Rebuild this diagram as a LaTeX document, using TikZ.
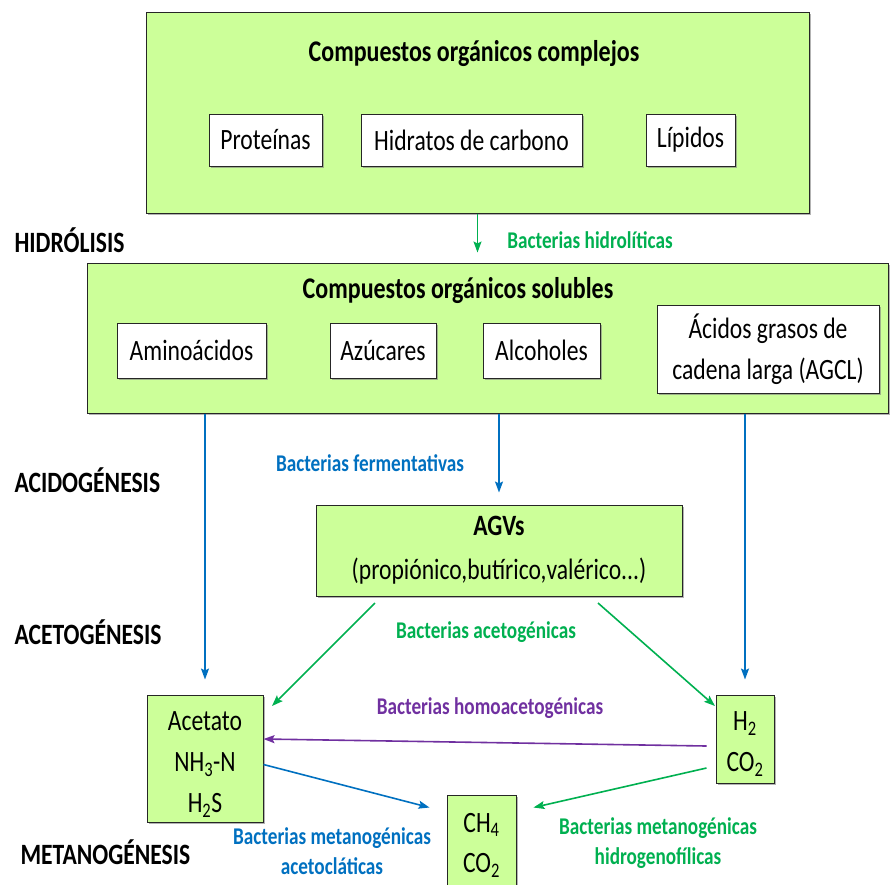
\documentclass[tikz,border=0pt]{standalone}
\usepackage{fontspec}
\setmainfont{Carlito}[FakeStretch=0.8]
\usetikzlibrary{arrows.meta,positioning,calc,shadows}
\definecolor{fpanel}{HTML}{CCFF99}
\definecolor{fgreen}{HTML}{00B050}
\definecolor{fblue}{HTML}{0070C0}
\definecolor{fpurple}{HTML}{7030A0}
\tikzset{
  panel/.style={draw=black!85, line width=1pt, fill=fpanel, inner sep=0pt,
    align=center, font=\fontsize{29.5}{42}\selectfont,
    drop shadow={shadow xshift=1.5pt, shadow yshift=-1.5pt, opacity=0.6}},
  item/.style={draw=black!85, line width=0.8pt, fill=white, inner sep=0pt,
    align=center, font=\fontsize{29.5}{41}\selectfont,
    drop shadow={shadow xshift=1.5pt, shadow yshift=-1.5pt, opacity=0.6}},
  stack/.style={align=center, inner sep=0pt, font=\fontsize{29.5}{41}\selectfont},
  title/.style={font=\bfseries\fontsize{30}{34}\selectfont},
  stage/.style={anchor=west, font=\bfseries\fontsize{29.5}{34}\selectfont},
  bact/.style={align=center, font=\bfseries\fontsize{24}{29.5}\selectfont},
  flow/.style={line width=1.6pt, -{Stealth[length=11pt, width=8pt, inset=2pt]}}
}
\begin{document}
\begin{tikzpicture}[x=1pt, y=-1pt]
\useasboundingbox (0,0) rectangle (890,884);
% ---------------- complex organics ----------------
\node[panel, minimum width=663pt, minimum height=201pt] (compl) at (477.5,112.5) {};
\node[title] (complT) at (474,54) {Compuestos orgánicos complejos};
\node[item, minimum width=113pt, minimum height=52pt] (prot) at (265.5,140) {Proteínas};
\node[item, minimum width=221pt, minimum height=52pt] (hidr) at (471.5,140) {Hidratos de carbono};
\node[item, minimum width=89pt, minimum height=52pt] (lip) at (690.5,140) {Lípidos};
% ---------------- soluble organics ----------------
\node[panel, minimum width=801pt, minimum height=150pt] (solub) at (487.5,338) {};
\node[title] (solubT) at (458,291) {Compuestos orgánicos solubles};
\node[item, minimum width=149pt, minimum height=55pt] (amino) at (191.5,350.5) {Aminoácidos};
\node[item, minimum width=106pt, minimum height=55pt] (azuc) at (383,350.5) {Azúcares};
\node[item, minimum width=117pt, minimum height=55pt] (alco) at (541.5,350.5) {Alcoholes};
\node[item, minimum width=222pt, minimum height=88pt] (agcl) at (768,349) {Ácidos grasos de\\cadena larga (AGCL)};
% ---------------- products ----------------
\node[panel, minimum width=366pt, minimum height=91pt, font=\fontsize{29.5}{44}\selectfont] (agv) at (499,550.5)
  {\textbf{AGVs}\\(propiónico,butírico,valérico...)};
\node[panel, minimum width=116pt, minimum height=127pt] (acet) at (205,758.5) {};
\node[stack] (acetT) at ($(acet)+(0,6)$) {Acetato\\NH\textsubscript{3}-N\\H\textsubscript{2}S};
\node[panel, minimum width=58pt, minimum height=88pt] (htwo) at (745,739) {};
\node[stack] (htwoT) at ($(htwo)+(0,5)$) {H\textsubscript{2}\\CO\textsubscript{2}};
\node[panel, minimum width=69pt, minimum height=100pt] (meth) at (481.5,845) {};
\node[stack, font=\fontsize{29.5}{40}\selectfont] (methT) at (meth) {CH\textsubscript{4}\\CO\textsubscript{2}};
% ---------------- stages ----------------
\node[stage] (sHid) at (11,240) {HIDRÓLISIS};
\node[stage] (sAcid) at (11,480) {ACIDOGÉNESIS};
\node[stage] (sAcet) at (11,632) {ACETOGÉNESIS};
\node[stage] (sMet) at (17,852) {METANOGÉNESIS};
% ---------------- bacteria ----------------
\node[bact, fgreen] (bHid) at (590,240) {Bacterias hidrolíticas};
\node[bact, fblue] (bFer) at (370,463) {Bacterias fermentativas};
\node[bact, fgreen] (bAce) at (486,632) {Bacterias acetogénicas};
\node[bact, fpurple] (bHom) at (490,708) {Bacterias homoacetogénicas};
\node[bact, fblue] (bMac) at (332,851) {Bacterias metanogénicas\\acetocláticas};
\node[bact, fgreen] (bMhi) at (658,843) {Bacterias metanogénicas\\hidrogenofílicas};
% ---------------- connectors ----------------
\coordinate (agvL) at (375,603);
\coordinate (agvR) at (598,603);
\coordinate (acetIn) at (272,706);
\coordinate (htwoIn) at (715,706);
\draw[flow, fgreen, line width=1.2pt, shorten >=10pt] (compl.south) -- (compl.south |- solub.north);
\draw[flow, fblue, shorten >=15pt] (solub.south -| acet.north) -- (acet.north);
\draw[flow, fblue, shorten >=12pt] (solub.south -| agv.north) -- (agv.north);
\draw[flow, fblue, shorten >=15pt] (solub.south -| htwo.north) -- (htwo.north);
\draw[flow, fgreen] (agvL) -- (acetIn);
\draw[flow, fgreen] (agvR) -- (htwoIn);
\draw[flow, fpurple] ($(htwo.west)+(-9,7)$) -- (acet.east |- htwo.west);
\draw[flow, fblue] ($(acet.east)+(0,6)$) -- ($(meth.north west)+(-17,13)$);
\draw[flow, fgreen] ($(htwo.west)+(-9,29)$) -- ($(meth.north east)+(17,13)$);
\end{tikzpicture}
\end{document}
